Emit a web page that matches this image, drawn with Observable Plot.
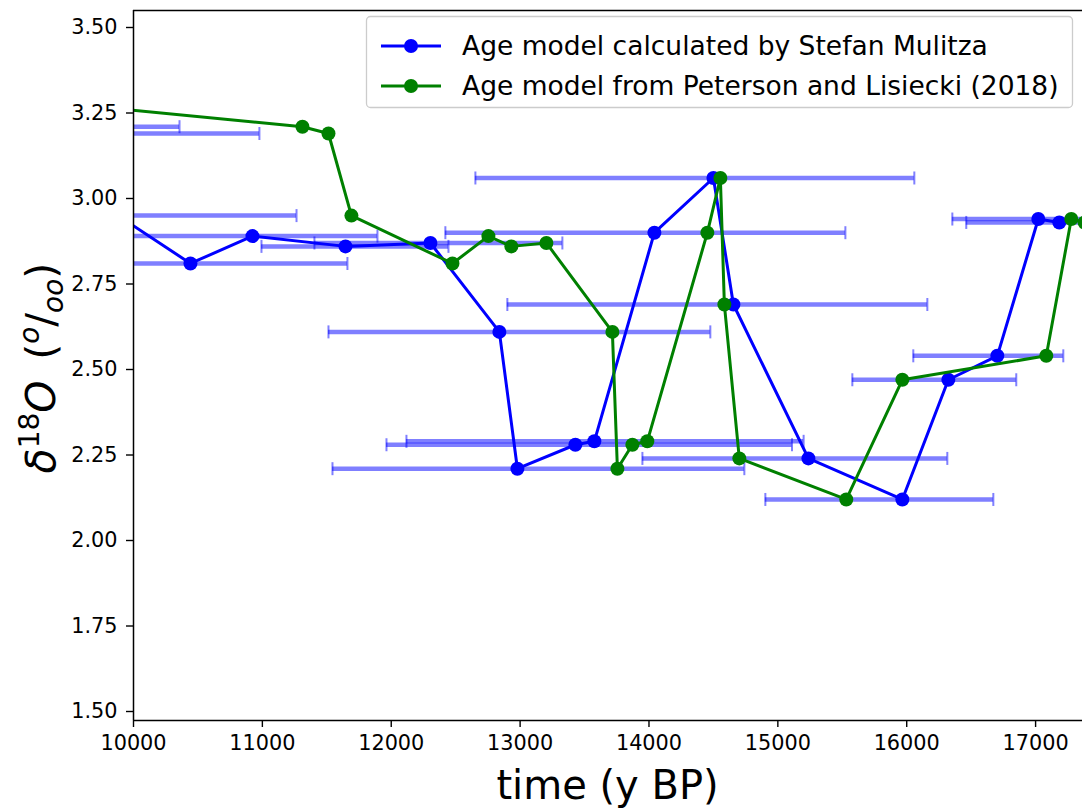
<!DOCTYPE html>
<html>
<head>
<meta charset="utf-8">
<script src="https://cdn.jsdelivr.net/npm/d3@7"></script>
<script src="https://cdn.jsdelivr.net/npm/@observablehq/plot@0.6"></script>
<style>
  html, body { margin: 0; padding: 0; background: white; }
  #chart { width: 1082px; height: 809px; }
</style>
</head>
<body>
<div id="chart"></div>
<script>
// δ18O values of each sample (per mil)
const d18O = [3.28, 3.21, 3.19, 2.95, 2.81, 2.89, 2.86, 2.87, 2.61, 2.21, 2.28, 2.29, 2.90, 3.06, 2.69, 2.24, 2.12, 2.47, 2.54, 2.94, 2.93];
// Age model calculated by Stefan Mulitza (y BP)
const ageMulitza = [9100, 9500, 9700, 9880, 10442, 10923, 11645, 12304, 12839, 12979, 13429, 13576, 14042, 14500, 14655, 15237, 15966, 16323, 16703, 17021, 17184];
// Age model from Peterson and Lisiecki (2018) (y BP)
const agePL = [9400, 11311, 11513, 11691, 12475, 12754, 12932, 13204, 13716, 13755, 13871, 13987, 14453, 14554, 14585, 14701, 15531, 15966, 17083, 17277, 17380];
// Age uncertainty range (lower / upper, y BP)
const ageLow  = [8200, 8640, 8420, 8500, 9225, 9800, 10993, 11404, 11513, 11544, 11963, 12118, 12420, 12653, 12901, 13949, 14903, 15578, 16051, 16354, 16462];
const ageHigh = [9950, 10357, 10977, 11265, 11660, 11893, 12444, 13328, 14476, 14740, 15110, 15200, 15524, 16059, 16160, 16315, 16672, 16850, 17215, 17700, 17900];

const xTicks = [10000, 11000, 12000, 13000, 14000, 15000, 16000, 17000];
const yTicks = [1.50, 1.75, 2.00, 2.25, 2.50, 2.75, 3.00, 3.25, 3.50];
const xDomain = [10000, 17364];
const yDomain = [1.4737, 3.5497];

const seriesNames = ["Age model calculated by Stefan Mulitza", "Age model from Peterson and Lisiecki (2018)"];
const seriesColors = ["#0000ff", "#008000"];

const blue = d18O.map((v, i) => ({x: ageMulitza[i], y: v}));
const green = d18O.map((v, i) => ({x: agePL[i], y: v}));
const errs = d18O.map((v, i) => ({y: v, lo: ageLow[i], hi: ageHigh[i]}));
const caps = errs.flatMap(d => [{x: d.lo, y: d.y}, {x: d.hi, y: d.y}]);

const capSymbol = {
  draw(ctx) { ctx.moveTo(0, -6.5); ctx.lineTo(0, 6.5); }
};

const svg = Plot.plot({
  width: 1082,
  height: 809,
  marginLeft: 133,
  marginRight: 0,
  marginTop: 10,
  marginBottom: 89,
  style: {fontFamily: "DejaVu Sans", fontSize: "20.8px", background: "white", color: "black"},
  x: {type: "linear", domain: xDomain},
  y: {type: "linear", domain: yDomain},
  marks: [
    Plot.ruleY(errs, {y: "y", x1: "lo", x2: "hi", stroke: seriesColors[0], strokeOpacity: 0.5, strokeWidth: 4.5, clip: true}),
    Plot.dot(caps, {x: "x", y: "y", symbol: capSymbol, stroke: seriesColors[0], strokeOpacity: 0.5, strokeWidth: 2, fill: "none", clip: true}),
    Plot.line(blue, {x: "x", y: "y", stroke: seriesColors[0], strokeWidth: 3, clip: true}),
    Plot.dot(blue, {x: "x", y: "y", r: 7, fill: seriesColors[0], stroke: "none", clip: true}),
    Plot.line(green, {x: "x", y: "y", stroke: seriesColors[1], strokeWidth: 3, clip: true}),
    Plot.dot(green, {x: "x", y: "y", r: 7, fill: seriesColors[1], stroke: "none", clip: true}),
    Plot.ruleX([xDomain[0]], {stroke: "black", strokeWidth: 1.5}),
    Plot.ruleY([yDomain[0]], {stroke: "black", strokeWidth: 1.5}),
    Plot.ruleY([yDomain[1]], {stroke: "black", strokeWidth: 1.5}),
    Plot.axisX(xTicks, {tickFormat: "d", tickSize: 7, tickPadding: 8, label: null, fontSize: 20.8, strokeWidth: 1.4}),
    Plot.axisY(yTicks, {tickFormat: d => d.toFixed(2), tickSize: 7, tickPadding: 9, label: null, fontSize: 20.8, strokeWidth: 1.4})
  ]
});

const s = d3.select(svg);

// x-axis label
s.append("text")
  .attr("x", 607.5).attr("y", 799)
  .attr("text-anchor", "middle")
  .attr("font-family", "DejaVu Sans")
  .attr("font-size", 40)
  .attr("fill", "black")
  .text("time (y BP)");

// y-axis label with math formatting
const yl = s.append("text")
  .attr("transform", "translate(55,368) rotate(-90)")
  .attr("text-anchor", "middle")
  .attr("font-family", "DejaVu Sans")
  .attr("font-size", 41)
  .attr("fill", "black");
yl.append("tspan").attr("font-style", "italic").text("δ");
yl.append("tspan").attr("font-size", 28).attr("dy", -16).text("18");
yl.append("tspan").attr("font-style", "italic").attr("dy", 16).text("O");
yl.append("tspan").text("\u2002(");
yl.append("tspan").attr("font-style", "italic").attr("font-size", 28).attr("dy", -16).text("o");
yl.append("tspan").attr("dy", 16).text("/");
yl.append("tspan").attr("font-style", "italic").attr("font-size", 28).attr("dy", 8).text("oo");
yl.append("tspan").attr("dy", -8).text(")");

// legend
const lg = s.append("g");
lg.append("rect")
  .attr("x", 366.5).attr("y", 16.5).attr("width", 706).attr("height", 91)
  .attr("rx", 4).attr("fill", "white").attr("fill-opacity", 0.8)
  .attr("stroke", "#cccccc").attr("stroke-width", 1.3);
seriesNames.forEach((name, i) => {
  const cy = 46 + i * 40;
  lg.append("line").attr("x1", 381).attr("x2", 441).attr("y1", cy).attr("y2", cy)
    .attr("stroke", seriesColors[i]).attr("stroke-width", 3);
  lg.append("circle").attr("cx", 411).attr("cy", cy).attr("r", 7).attr("fill", seriesColors[i]);
  lg.append("text").attr("x", 462).attr("y", cy).attr("dy", "0.35em")
    .attr("text-anchor", "start")
    .attr("font-family", "DejaVu Sans").attr("font-size", 26.5).attr("fill", "black")
    .text(name);
});

document.getElementById("chart").appendChild(svg);
</script>
</body>
</html>
